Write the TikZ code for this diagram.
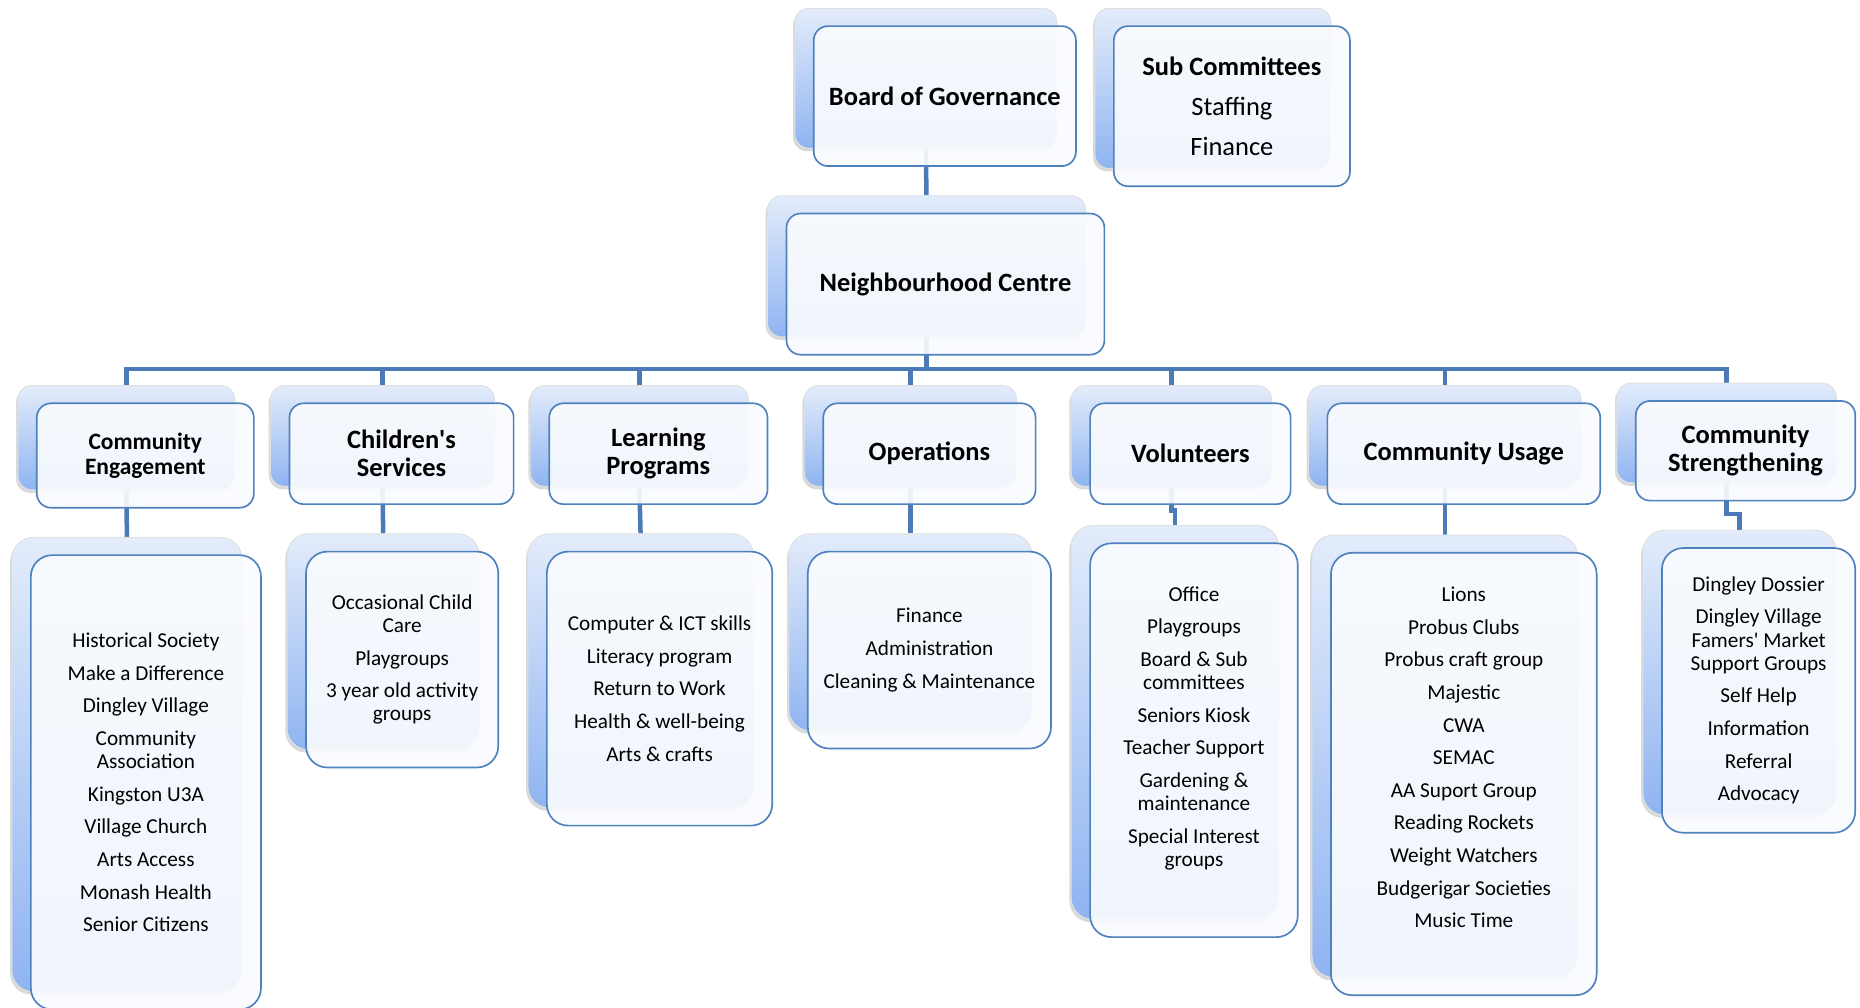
\documentclass[tikz,border=0pt]{standalone}
\usepackage{fontspec}
\setmainfont{Carlito}
\usetikzlibrary{backgrounds,shadows}

\definecolor{panelblue}{HTML}{4F81BD}
\definecolor{linkblue}{HTML}{4A7BB7}
\definecolor{paneltop}{HTML}{E3ECFB}
\definecolor{panelbot}{HTML}{8FB4F1}
\definecolor{panelfill}{HTML}{F9FBFE}

\tikzset{
  backpanel/.style={draw=black!12, line width=0.8pt, top color=paneltop, bottom color=panelbot,
    drop shadow={shadow xshift=-1.5pt, shadow yshift=-2.5pt, opacity=0.3}},
  frontpanel/.style={draw=panelblue, line width=1.4pt, fill=panelfill, fill opacity=0.92},
  headtext/.style={align=center, font=\bfseries\fontsize{22.3}{23.5}\selectfont},
  listtext/.style={align=center, font=\fontsize{17.9}{19.5}\selectfont},
  subtext/.style={align=center, font=\fontsize{22.3}{34}\selectfont},
  link/.style={draw=linkblue, line width=3.8pt}
}

% back panel, front panel and text of one box
\newcommand{\orgpanel}[8][12pt]{%
  \node[backpanel, rounded corners=#1, minimum width=#6pt, minimum height=#7pt] (#2-b) at ({#4-16},{#5-15}) {};
  \node[frontpanel, rounded corners=#1, minimum width=#6pt, minimum height=#7pt] (#2) at (#4,#5) {};
  \node[#3] (#2-t) at (#2.center) {#8};
}

\begin{document}
\begin{tikzpicture}[x=1pt, y=-1pt]
    \useasboundingbox (0,0) rectangle (1568,849);

    % top
    \orgpanel{board}{headtext}{796.5}{81}{221}{118}{Board of Governance}
    \orgpanel{sub}{subtext}{1038.5}{89.5}{199}{135}{\textbf{Sub Committees}\\Staffing\\Finance}
    \orgpanel{nc}{headtext}{797}{239.5}{268}{119}{Neighbourhood Centre}

    % areas
    \orgpanel{ce}{headtext, font=\bfseries\fontsize{19.8}{21.5}\selectfont}{122.5}{384}{183}{88}{Community\\Engagement}
    \orgpanel{cs}{headtext}{338.5}{382.5}{189}{85}{Children\textquotesingle s\\Services}
    \orgpanel{lp}{headtext}{555}{382.5}{184}{85}{Learning\\Programs}
    \orgpanel{op}{headtext}{783.5}{382.5}{179}{85}{Operations}
    \orgpanel{vol}{headtext}{1003.5}{382.5}{169}{85}{Volunteers}
    \orgpanel{cu}{headtext}{1234}{382.5}{230}{85}{Community Usage}
    \orgpanel{cstr}{headtext}{1471.5}{380}{185}{84}{Community\\Strengthening}

    % lists
    \orgpanel[18pt]{ce3}{listtext}{123}{659.5}{194}{383}{Historical Society\\[8pt]Make a Difference\\[8pt]Dingley Village\\[8pt]Community\\Association\\[8pt]Kingston U3A\\[8pt]Village Church\\[8pt]Arts Access\\[8pt]Monash Health\\[8pt]Senior Citizens}
    \orgpanel[18pt]{cs3}{listtext}{339}{556}{162}{182}{Occasional Child\\Care\\[8pt]Playgroups\\[8pt]3 year old activity\\groups}
    \orgpanel[18pt]{lp3}{listtext}{556}{580.5}{190}{231}{Computer \& ICT skills\\[8pt]Literacy program\\[8pt]Return to Work\\[8pt]Health \& well-being\\[8pt]Arts \& crafts}
    \orgpanel[18pt]{op3}{listtext}{783.5}{548}{205}{166}{Finance\\[8pt]Administration\\[8pt]Cleaning \& Maintenance}
    \orgpanel[18pt]{vol3}{listtext, yshift=10pt}{1006.5}{624}{175}{332}{Office\\[8pt]Playgroups\\[8pt]Board \& Sub\\committees\\[8pt]Seniors Kiosk\\[8pt]Teacher Support\\[8pt]Gardening \&\\maintenance\\[8pt]Special Interest\\groups}
    \orgpanel[18pt]{cu3}{listtext, yshift=14pt}{1234}{652.5}{224}{373}{Lions\\[8pt]Probus Clubs\\[8pt]Probus craft group\\[8pt]Majestic\\[8pt]CWA\\[8pt]SEMAC\\[8pt]AA Suport Group\\[8pt]Reading Rockets\\[8pt]Weight Watchers\\[8pt]Budgerigar Societies\\[8pt]Music Time}
    \orgpanel[18pt]{cstr3}{listtext}{1482.5}{582}{163}{240}{Dingley Dossier\\[8pt]Dingley Village\\Famers\textquotesingle\ Market\\Support Groups\\[8pt]Self Help\\[8pt]Information\\[8pt]Referral\\[8pt]Advocacy}

    % connectors
    \begin{pgfonlayer}{background}
        \coordinate (bus) at (0,311);
        \draw [link] (board-b.south) -- (nc-b.north);
        \draw [link] (nc-b.south) -- (nc-b.south |- bus);
        \draw [link] (ce-b.north) -- (ce-b.north |- bus) -- (cstr-b.north |- bus) -- (cstr-b.north);
        \foreach \n in {cs,lp,op,vol,cu}
            \draw [link] (\n-b.north) -- (\n-b.north |- bus);
        \foreach \n in {ce,cs,lp,op,cu}
            \draw [link] (\n-b.south) -- (\n3-b.north);
        \draw [link] (vol-b.south) -- ++(0,20) -| (vol3-b.north);
        \draw [link] (cstr-b.south) -- ++(0,26) -| (cstr3-b.north);
    \end{pgfonlayer}
\end{tikzpicture}
\end{document}
